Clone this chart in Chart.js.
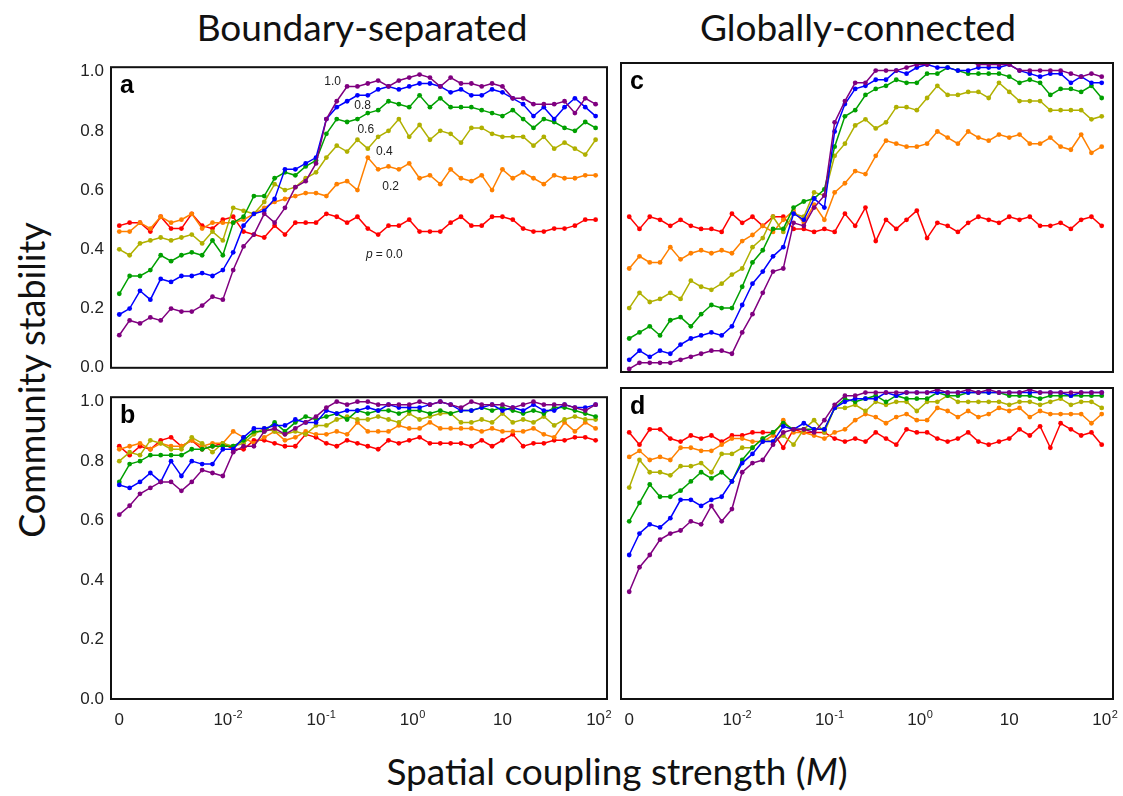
<!DOCTYPE html>
<html>
<head>
<meta charset="utf-8">
<script src="https://cdn.jsdelivr.net/npm/chart.js@4.4.0/dist/chart.umd.min.js"></script>
<style>
  body{margin:0;background:#fff;width:1123px;height:796px;position:relative;overflow:hidden}
  canvas{position:absolute}
  .lbl{position:absolute;font-family:Lato,"Open Sans",sans-serif;color:#111;white-space:nowrap;line-height:1.2}
</style>
</head>
<body>
<div class="lbl" style="left:362px;top:5px;font-size:37px;transform:translateX(-50%)">Boundary-separated</div>
<div class="lbl" style="left:858px;top:5px;font-size:37px;transform:translateX(-50%)">Globally-connected</div>
<div class="lbl" style="left:32px;top:380px;font-size:36px;transform:translate(-50%,-50%) rotate(-90deg)">Community stability</div>
<div class="lbl" style="left:617px;top:749px;font-size:37px;transform:translateX(-50%)">Spatial coupling strength (<i>M</i>)</div>

<canvas id="chartA" width="560" height="335" style="left:60px;top:50px"></canvas>
<canvas id="chartB" width="560" height="365" style="left:60px;top:380px"></canvas>
<canvas id="chartC" width="513" height="335" style="left:610px;top:50px"></canvas>
<canvas id="chartD" width="513" height="365" style="left:610px;top:380px"></canvas>

<script>
// x = index of the coupling value M (0, then 10^-3 .. 10^2, 9 steps per decade)
const tickPos  = [0, 10, 19, 28, 37, 46];
const tickBase = ["0", "10", "10", "10", "10", "10"];
const tickExp  = ["", "-2", "-1", "0", "", "2"];
const yTicks   = [0, 0.2, 0.4, 0.6, 0.8, 1.0];

const pLabels = ["0.0", "0.2", "0.4", "0.6", "0.8", "1.0"];
const colors  = ["#ff0000", "#ff8000", "#b0b000", "#00a000", "#0000ff", "#800080"];

// panel a : boundary-separated, top
const a_p00 = [0.48,0.49,0.49,0.46,0.51,0.47,0.47,0.52,0.48,0.47,0.50,0.51,0.46,0.45,0.44,0.48,0.45,0.49,0.49,0.49,0.52,0.51,0.49,
               0.51,0.47,0.45,0.48,0.48,0.50,0.46,0.46,0.46,0.49,0.51,0.48,0.48,0.51,0.51,0.50,0.47,0.46,0.46,0.47,0.47,0.48,0.50,0.50];
const a_p02 = [0.46,0.46,0.49,0.47,0.51,0.49,0.50,0.52,0.47,0.49,0.49,0.49,0.50,0.52,0.54,0.56,0.57,0.58,0.59,0.59,0.58,0.62,0.63,
               0.60,0.71,0.67,0.68,0.67,0.69,0.64,0.65,0.62,0.67,0.64,0.63,0.65,0.60,0.67,0.64,0.66,0.64,0.62,0.65,0.64,0.64,0.65,0.65];
const a_p04 = [0.40,0.38,0.42,0.43,0.44,0.43,0.44,0.45,0.42,0.46,0.43,0.54,0.53,0.52,0.56,0.62,0.60,0.61,0.64,0.66,0.71,0.75,0.73,
               0.77,0.74,0.78,0.80,0.84,0.78,0.82,0.77,0.80,0.79,0.76,0.81,0.81,0.79,0.78,0.78,0.78,0.75,0.78,0.74,0.76,0.74,0.72,0.77];
const a_p06 = [0.25,0.31,0.31,0.33,0.38,0.36,0.38,0.39,0.38,0.43,0.38,0.49,0.51,0.58,0.58,0.64,0.66,0.65,0.68,0.70,0.79,0.84,0.83,
               0.84,0.86,0.87,0.90,0.89,0.88,0.92,0.88,0.91,0.88,0.88,0.88,0.87,0.86,0.85,0.87,0.84,0.81,0.84,0.83,0.81,0.80,0.83,0.81];
const a_p08 = [0.18,0.20,0.26,0.23,0.30,0.29,0.31,0.31,0.32,0.31,0.33,0.39,0.48,0.52,0.53,0.57,0.67,0.67,0.69,0.71,0.84,0.88,0.90,
               0.92,0.92,0.94,0.95,0.94,0.95,0.96,0.96,0.95,0.93,0.94,0.92,0.92,0.94,0.93,0.91,0.89,0.85,0.88,0.84,0.88,0.91,0.88,0.85];
const a_p10 = [0.11,0.16,0.15,0.17,0.16,0.20,0.19,0.19,0.21,0.24,0.23,0.33,0.41,0.45,0.52,0.49,0.54,0.61,0.63,0.69,0.84,0.90,0.95,
               0.95,0.96,0.97,0.95,0.97,0.98,0.99,0.98,0.95,0.98,0.96,0.96,0.95,0.96,0.95,0.91,0.91,0.89,0.89,0.89,0.90,0.86,0.91,0.89];

// panel b : boundary-separated, bottom
const b_p00 = [0.85,0.82,0.85,0.84,0.87,0.88,0.85,0.87,0.84,0.85,0.86,0.84,0.84,0.87,0.87,0.86,0.85,0.85,0.89,0.88,0.86,0.85,0.87,
               0.86,0.85,0.84,0.87,0.86,0.87,0.88,0.86,0.86,0.86,0.86,0.85,0.87,0.85,0.87,0.89,0.85,0.86,0.86,0.87,0.87,0.88,0.88,0.87];
const b_p02 = [0.84,0.85,0.86,0.84,0.86,0.85,0.85,0.87,0.85,0.86,0.86,0.90,0.88,0.86,0.88,0.90,0.87,0.88,0.90,0.89,0.89,0.90,0.89,
               0.93,0.90,0.90,0.90,0.92,0.91,0.91,0.93,0.91,0.91,0.91,0.91,0.90,0.91,0.90,0.90,0.90,0.91,0.89,0.88,0.93,0.90,0.93,0.91];
const b_p04 = [0.80,0.83,0.82,0.87,0.86,0.84,0.84,0.88,0.86,0.83,0.86,0.85,0.86,0.89,0.91,0.90,0.89,0.90,0.89,0.92,0.92,0.94,0.95,
               0.94,0.94,0.95,0.94,0.93,0.96,0.94,0.95,0.96,0.96,0.93,0.93,0.94,0.93,0.96,0.93,0.94,0.93,0.95,0.92,0.94,0.95,0.94,0.94];
const b_p06 = [0.73,0.79,0.80,0.82,0.82,0.82,0.82,0.84,0.84,0.85,0.85,0.85,0.87,0.90,0.90,0.93,0.90,0.93,0.95,0.94,0.95,0.96,0.94,
               0.97,0.96,0.97,0.97,0.96,0.97,0.97,0.96,0.97,0.96,0.97,0.97,0.98,0.97,0.98,0.97,0.96,0.97,0.96,0.98,0.98,0.97,0.96,0.95];
const b_p08 = [0.72,0.71,0.73,0.76,0.73,0.80,0.75,0.80,0.79,0.79,0.84,0.84,0.88,0.91,0.91,0.92,0.92,0.94,0.93,0.93,0.97,0.96,0.97,
               0.97,0.98,0.97,0.99,0.98,0.98,0.98,0.99,1.00,0.99,0.97,0.97,0.98,0.99,0.97,0.98,0.97,0.99,0.97,0.97,0.99,0.98,0.98,0.99];
const b_p10 = [0.62,0.65,0.69,0.71,0.73,0.73,0.70,0.73,0.77,0.76,0.75,0.83,0.85,0.85,0.90,0.91,0.89,0.91,0.93,0.95,0.98,1.00,0.99,
               1.00,1.00,0.99,0.99,0.99,0.99,1.00,0.99,1.00,0.99,0.98,1.00,0.99,0.99,0.99,0.98,0.99,1.00,0.99,0.99,0.99,0.98,0.97,0.99];

// panel c : globally-connected, top
const c_p00 = [0.51,0.47,0.51,0.50,0.48,0.50,0.48,0.47,0.47,0.46,0.52,0.49,0.51,0.48,0.51,0.51,0.47,0.47,0.46,0.47,0.46,0.52,0.48,
               0.54,0.43,0.50,0.47,0.50,0.53,0.44,0.49,0.48,0.46,0.49,0.51,0.50,0.49,0.51,0.50,0.51,0.48,0.48,0.49,0.47,0.50,0.51,0.48];
const c_p02 = [0.34,0.38,0.36,0.36,0.41,0.37,0.39,0.40,0.39,0.40,0.39,0.43,0.45,0.48,0.46,0.50,0.53,0.49,0.55,0.50,0.59,0.62,0.66,
               0.65,0.71,0.76,0.75,0.74,0.74,0.75,0.79,0.77,0.75,0.79,0.77,0.76,0.78,0.77,0.78,0.75,0.75,0.77,0.74,0.73,0.78,0.72,0.74];
const c_p04 = [0.21,0.26,0.23,0.24,0.26,0.24,0.30,0.28,0.27,0.29,0.32,0.34,0.41,0.44,0.51,0.46,0.52,0.51,0.59,0.58,0.71,0.75,0.81,
               0.83,0.80,0.82,0.87,0.87,0.86,0.90,0.94,0.91,0.91,0.92,0.92,0.90,0.95,0.92,0.89,0.89,0.89,0.86,0.86,0.86,0.86,0.83,0.84];
const c_p06 = [0.11,0.13,0.15,0.12,0.17,0.18,0.15,0.19,0.22,0.21,0.21,0.28,0.36,0.40,0.47,0.47,0.54,0.56,0.57,0.60,0.74,0.84,0.86,
               0.91,0.93,0.94,0.96,0.95,0.95,0.98,0.98,1.00,0.99,0.98,0.98,0.98,0.98,0.97,0.95,0.96,0.95,0.91,0.93,0.93,0.92,0.94,0.90];
const c_p08 = [0.04,0.07,0.05,0.07,0.06,0.09,0.11,0.12,0.13,0.12,0.15,0.22,0.29,0.33,0.38,0.41,0.52,0.50,0.57,0.54,0.79,0.88,0.93,
               0.94,0.96,0.96,0.99,0.98,1.00,1.01,1.00,1.00,0.99,0.99,1.00,1.00,1.00,1.01,0.99,0.98,0.97,0.98,0.98,0.95,0.97,0.95,0.95];
const c_p10 = [0.01,0.03,0.03,0.03,0.03,0.04,0.05,0.06,0.07,0.07,0.06,0.13,0.19,0.26,0.33,0.34,0.49,0.48,0.54,0.58,0.82,0.89,0.95,
               0.95,0.99,0.99,0.99,1.00,1.01,1.01,1.02,1.02,1.02,1.02,1.01,1.01,1.01,1.01,0.99,0.99,0.99,0.99,0.99,0.98,0.97,0.98,0.97];

// panel d : globally-connected, bottom
const d_p00 = [0.87,0.83,0.88,0.88,0.85,0.84,0.86,0.85,0.86,0.84,0.86,0.86,0.87,0.87,0.87,0.82,0.88,0.87,0.87,0.87,0.85,0.84,0.85,
               0.84,0.87,0.85,0.83,0.88,0.87,0.87,0.85,0.84,0.85,0.87,0.84,0.83,0.84,0.85,0.88,0.86,0.89,0.82,0.90,0.88,0.86,0.87,0.83];
const d_p02 = [0.79,0.81,0.78,0.79,0.78,0.82,0.82,0.81,0.81,0.83,0.85,0.85,0.84,0.84,0.86,0.91,0.87,0.87,0.86,0.85,0.87,0.88,0.91,
               0.93,0.92,0.90,0.92,0.93,0.91,0.91,0.95,0.94,0.92,0.94,0.92,0.93,0.95,0.94,0.95,0.92,0.94,0.93,0.93,0.93,0.93,0.90,0.93];
const d_p04 = [0.69,0.78,0.74,0.74,0.73,0.76,0.76,0.77,0.74,0.80,0.80,0.82,0.82,0.85,0.84,0.86,0.83,0.88,0.91,0.87,0.95,0.95,0.96,
               0.94,0.97,0.96,0.97,0.97,0.94,0.97,0.97,0.99,0.97,0.97,0.97,0.97,0.97,0.96,0.97,0.97,0.96,0.97,0.98,0.96,0.97,0.97,0.95];
const d_p06 = [0.58,0.64,0.70,0.66,0.66,0.68,0.71,0.74,0.72,0.74,0.71,0.78,0.82,0.85,0.87,0.90,0.88,0.88,0.88,0.88,0.95,0.98,0.97,
               0.98,0.99,0.97,0.99,0.98,0.98,0.98,1.00,0.99,0.99,1.00,1.00,1.00,1.00,0.99,0.99,0.99,0.98,0.99,0.99,0.99,0.99,0.99,0.99];
const d_p08 = [0.47,0.54,0.57,0.56,0.59,0.65,0.65,0.63,0.65,0.66,0.71,0.77,0.80,0.84,0.84,0.89,0.88,0.90,0.88,0.88,0.95,0.97,0.98,
               0.98,0.98,1.00,0.99,1.00,1.00,1.00,1.00,1.00,1.00,1.00,1.00,1.00,1.00,1.00,1.00,1.00,1.00,1.00,1.00,0.99,1.00,1.00,1.00];
const d_p10 = [0.35,0.43,0.47,0.52,0.54,0.55,0.58,0.57,0.63,0.58,0.62,0.74,0.77,0.78,0.83,0.87,0.88,0.88,0.87,0.91,0.96,0.99,0.99,
               1.00,1.00,1.00,1.00,1.00,1.00,1.00,1.01,1.00,1.00,1.01,1.00,1.01,1.00,1.00,1.00,1.01,1.00,1.00,1.00,1.00,1.00,1.00,1.00];

// curve tags in panel a (data units)
const tagText = ["1.0", "0.8", "0.6", "0.4", "0.2", "0.0"];
const tagX    = [20.6, 23.5, 23.8, 25.6, 26.2, 26.6];
const tagY    = [0.965, 0.885, 0.803, 0.73, 0.612, 0.382];

const FONT = "'Liberation Sans', Arial, sans-serif";

const framePlugin = {
  id: "frame",
  afterDatasetsDraw(chart, args, opts) {
    const {ctx, chartArea: c} = chart;
    const xs = chart.scales.x, ys = chart.scales.y;
    ctx.save();
    ctx.strokeStyle = "#111";
    ctx.lineWidth = 2;
    ctx.strokeRect(c.left, c.top, c.right - c.left, c.bottom - c.top);

    ctx.fillStyle = "#000";
    ctx.font = "bold 25px " + FONT;
    ctx.textBaseline = "alphabetic";
    ctx.fillText(opts.letter, c.left + 9, c.top + 26);

    if (opts.xLabels) {
      ctx.fillStyle = "#222";
      tickPos.forEach((v, i) => {
        const px = xs.getPixelForValue(v);
        ctx.font = "17px " + FONT;
        ctx.textAlign = "center";
        ctx.fillText(tickBase[i], px, c.bottom + 26);
        if (tickExp[i]) {
          const w = ctx.measureText(tickBase[i]).width;
          ctx.font = "11px " + FONT;
          ctx.textAlign = "left";
          ctx.fillText(tickExp[i], px + w / 2 + 0.5, c.bottom + 19);
        }
      });
    }

    if (opts.tags) {
      ctx.fillStyle = "#222";
      ctx.textBaseline = "middle";
      tagText.forEach((t, i) => {
        const px = xs.getPixelForValue(tagX[i]);
        const py = ys.getPixelForValue(tagY[i]);
        if (i === tagText.length - 1) {
          ctx.textAlign = "right";
          ctx.font = "italic 12px " + FONT;
          ctx.fillText("p", px - 22, py);
          ctx.textAlign = "left";
          ctx.font = "12px " + FONT;
          ctx.fillText("= " + t, px - 19, py);
        } else {
          ctx.textAlign = "center";
          ctx.font = "12px " + FONT;
          ctx.fillText(t, px, py);
        }
      });
    }
    ctx.restore();
  }
};

function makePanel(id, series, o) {
  const datasets = series.map((vals, k) => ({
    label: "p = " + pLabels[k],
    data: vals.map((v, i) => ({x: i, y: v})),
    borderColor: colors[k],
    backgroundColor: colors[k],
    borderWidth: 1.5,
    pointRadius: 2.4,
    pointBorderWidth: 0,
    tension: 0,
    order: series.length - k
  }));

  new Chart(document.getElementById(id), {
    type: "line",
    data: {datasets},
    options: {
      responsive: false,
      animation: false,
      layout: {padding: o.pad},
      plugins: {
        legend: {display: false},
        tooltip: {enabled: false},
        frame: {letter: o.letter, tags: o.tags, xLabels: o.xLabels}
      },
      scales: {
        x: {type: "linear", min: -0.8, max: 47.1, display: false},
        y: {
          min: 0, max: 1.015,
          display: o.showY,
          grid: {display: false, drawTicks: false},
          border: {display: false},
          afterBuildTicks: ax => { ax.ticks = yTicks.map(v => ({value: v})); },
          afterFit: ax => { if (o.showY) ax.width = 51; },
          ticks: {font: {family: FONT, size: 17}, color: "#222", padding: 7, callback: v => v.toFixed(1)}
        }
      }
    },
    plugins: [framePlugin]
  });
}

makePanel("chartA", [a_p00, a_p02, a_p04, a_p06, a_p08, a_p10],
  {letter: "a", tags: true, showY: true, pad: {top: 13, right: 13, bottom: 13, left: 0}});
makePanel("chartB", [b_p00, b_p02, b_p04, b_p06, b_p08, b_p10],
  {letter: "b", xLabels: true, showY: true, pad: {top: 8, right: 13, bottom: 46, left: 0}});
makePanel("chartC", [c_p00, c_p02, c_p04, c_p06, c_p08, c_p10],
  {letter: "c", showY: false, pad: {top: 13, right: 10, bottom: 13, left: 11}});
makePanel("chartD", [d_p00, d_p02, d_p04, d_p06, d_p08, d_p10],
  {letter: "d", xLabels: true, showY: false, pad: {top: 8, right: 10, bottom: 46, left: 11}});
</script>
</body>
</html>
